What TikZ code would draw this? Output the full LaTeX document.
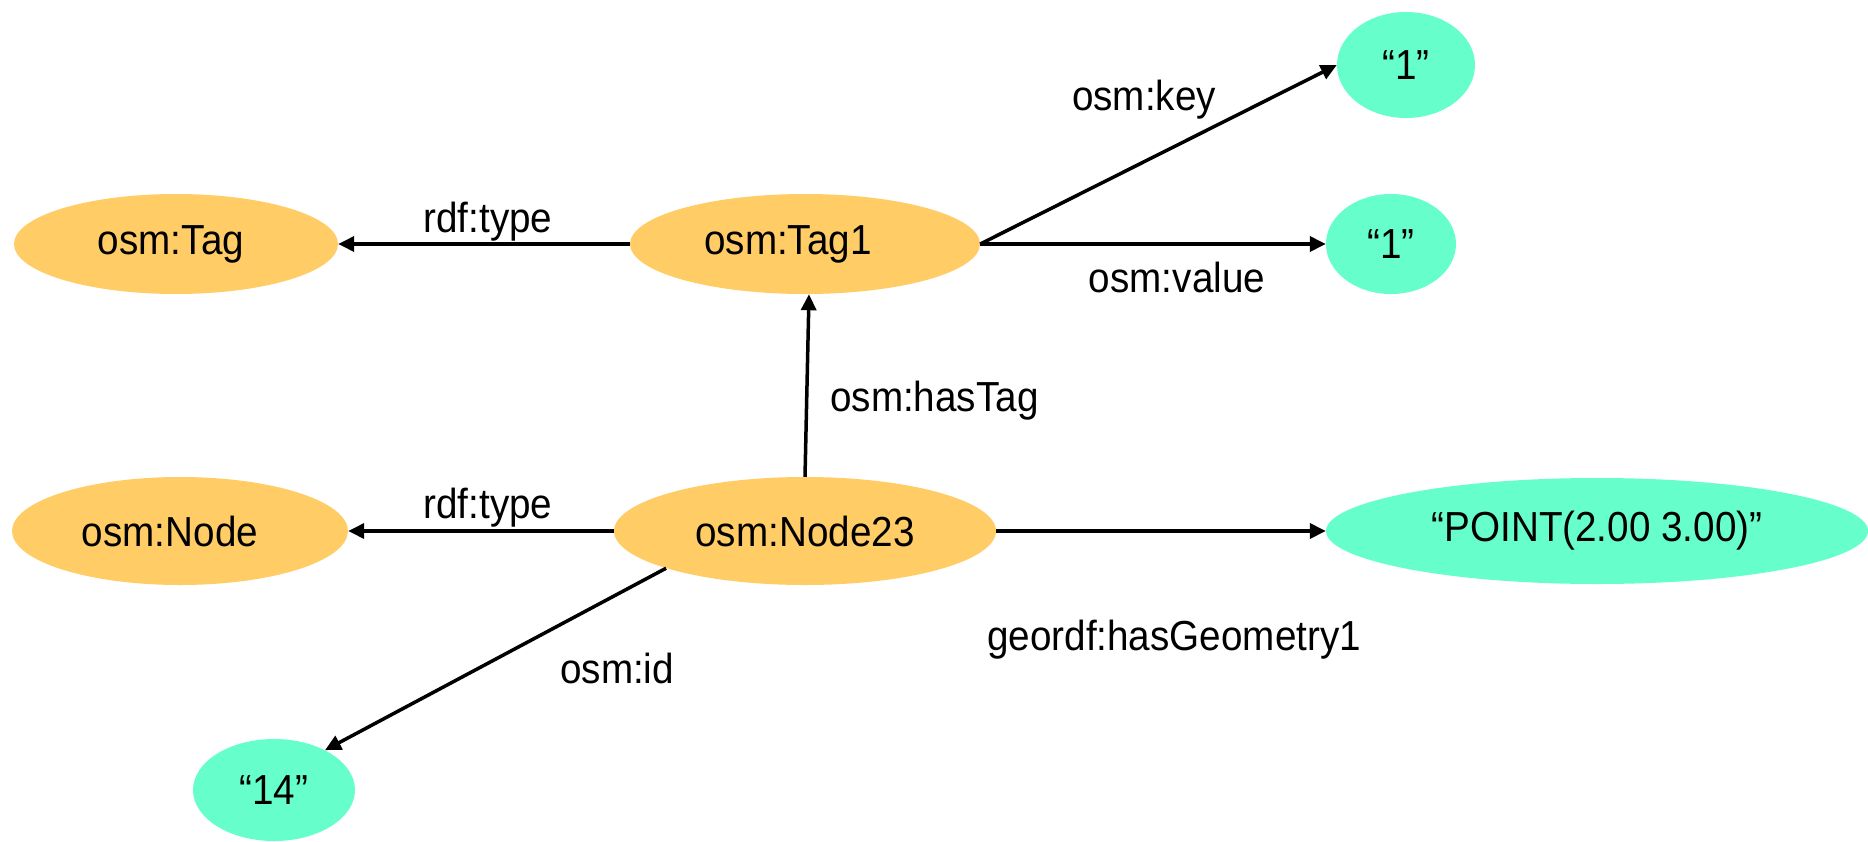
\documentclass[tikz,border=0pt]{standalone}
\usepackage{fontspec}
\setmainfont[FakeStretch=0.92]{Liberation Sans}
\usetikzlibrary{shapes.geometric,arrows.meta}
\definecolor{orangefill}{HTML}{FFCC66}
\definecolor{greenfill}{HTML}{66FFCC}
\begin{document}
\begin{tikzpicture}[x=1pt,y=-1pt,
 every node/.style={font=\fontsize{42}{48}\selectfont},
 ell/.style={ellipse, inner sep=0pt, draw=none},
 res/.style={ell, fill=orangefill},
 lit/.style={ell, fill=greenfill},
 edge/.style={line width=3.5pt, -{Triangle[length=16pt,width=15pt]}},
 lbl/.style={anchor=base, inner sep=0pt}]
\useasboundingbox (0,0) rectangle (1868,841);
% nodes
\node[res, minimum width=324pt, minimum height=100pt] (tag)  at (176,244) {osm:Tag\hspace*{10pt}};
\node[res, minimum width=350pt, minimum height=100pt] (tag1) at (805,244) {osm:Tag1\hspace*{34pt}};
\node[lit, minimum width=138pt, minimum height=106pt] (k1)   at (1406,65) {“1”};
\node[lit, minimum width=130pt, minimum height=100pt] (v1)   at (1391,244) {“1”};
\node[res, minimum width=336pt, minimum height=108pt] (node) at (180,531) {osm:Node\hspace*{20pt}};
\node[res, minimum width=382pt, minimum height=108pt] (n23)  at (805,531) {osm:Node23};
\node[lit, minimum width=542pt, minimum height=106pt] (pt)   at (1597,531) {“POINT(2.00 3.00)”};
\node[lit, minimum width=162pt, minimum height=102pt] (n14)  at (274,790) {“14”};
% edges
\draw[edge] (tag1.west) -- (tag.east);
\draw[edge] (tag1.east) -- (k1.west);
\draw[edge] (tag1.east) -- (v1.west);
\draw[edge] (n23.north) -- ([xshift=4pt]tag1.south);
\draw[edge] (n23.west) -- (node.east);
\draw[edge] (n23.east) -- (pt.west);
\draw[edge] (n23.195) -- (n14.38);
% labels
\node[lbl] (l1) at (488,232) {rdf:type};
\node[lbl] (l2) at (1144,110) {osm:key};
\node[lbl] (l3) at (1177,292) {osm:value};
\node[lbl, anchor=base west] (l4) at (830,411) {osm:hasTag};
\node[lbl] (l5) at (488,518) {rdf:type};
\node[lbl, anchor=base west] (l6) at (987,650) {geordf:hasGeometry1};
\node[lbl, anchor=base west] (l7) at (560,683) {osm:id};
\end{tikzpicture}
\end{document}
